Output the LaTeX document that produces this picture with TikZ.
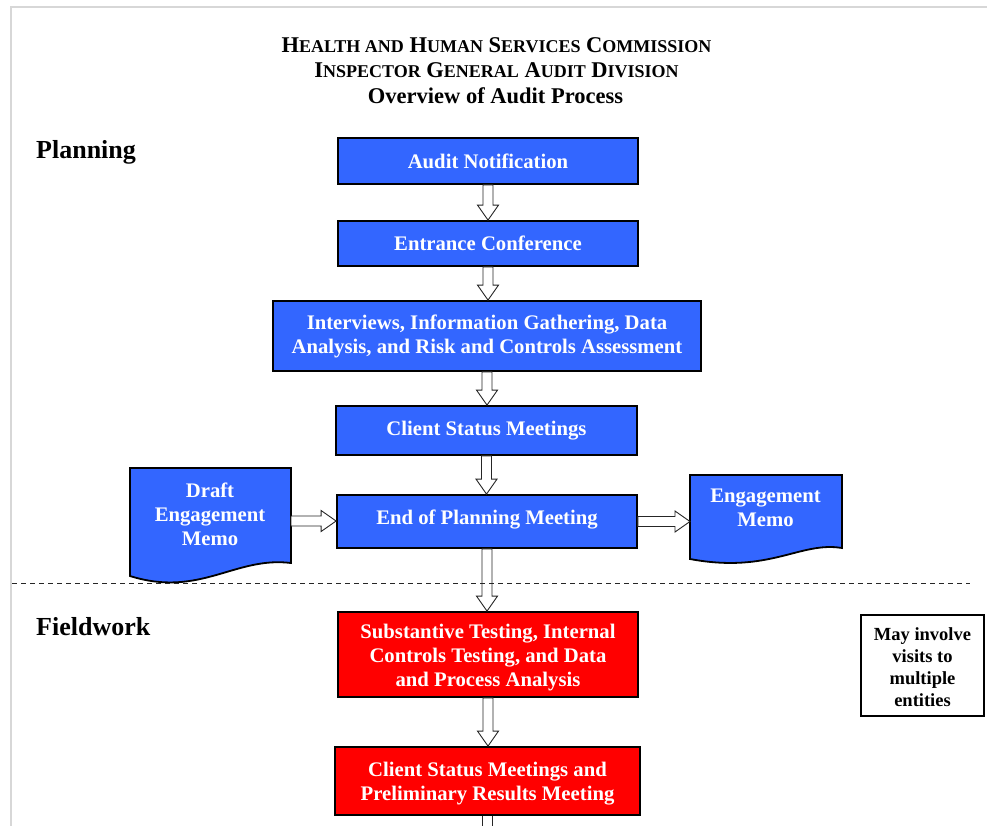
\documentclass[tikz,border=0pt]{standalone}
\usepackage{fontspec}
\setmainfont{Liberation Serif}
\usetikzlibrary{calc}
\definecolor{boxblue}{RGB}{51,102,255}
\definecolor{boxred}{RGB}{255,0,0}
\definecolor{framegrey}{RGB}{215,215,215}
\newcommand\boxfont{\fontsize{20.7}{24}\selectfont\bfseries}
\newcommand\titlefont{\fontsize{22.5}{25}\selectfont\bfseries}
\newcommand\labelfont{\fontsize{26}{30}\selectfont\bfseries}
\newcommand\notefont{\fontsize{18.5}{22}\selectfont\bfseries}
\newcommand\tsc[2]{#1{\fontsize{18}{20}\selectfont #2}}
\tikzset{
  box/.style={draw=black, line width=1.8pt, inner sep=0pt, align=center, text=white, font=\boxfont},
  bluebox/.style={box, fill=boxblue},
  redbox/.style={box, fill=boxred},
  doctext/.style={inner sep=0pt, align=center, text=white, font=\boxfont},
  docshape/.style={draw=black, line width=1.8pt, fill=boxblue},
  barrow/.style={draw=black!85, line width=0.9pt, fill=white},
  notebox/.style={draw=black, line width=1.2pt, fill=white, inner sep=0pt, align=center, font=\notefont},
  sectlabel/.style={anchor=west, inner sep=0pt, font=\labelfont},
  titletext/.style={inner sep=0pt, font=\titlefont}
}
\newcommand\varrow[2]{\path[barrow] let \p1=(#1), \p2=(#2) in
  (\x1-5pt,\y1) -- (\x1-5pt,\y2+15pt) -- (\x1-10.5pt,\y2+15pt) -- (\x1,\y2)
  -- (\x1+10.5pt,\y2+15pt) -- (\x1+5pt,\y2+15pt) -- (\x1+5pt,\y1) -- cycle;}
\newcommand\harrow[2]{\path[barrow] let \p1=(#1), \p2=(#2) in
  (\x1,\y1-5pt) -- (\x2-15pt,\y1-5pt) -- (\x2-15pt,\y1-10.5pt) -- (\x2,\y1)
  -- (\x2-15pt,\y1+10.5pt) -- (\x2-15pt,\y1+5pt) -- (\x1,\y1+5pt) -- cycle;}
\begin{document}
\begin{tikzpicture}[x=1pt, y=-1pt]
\useasboundingbox (0,0) rectangle (987,825);
% page frame
\draw[framegrey, line width=2pt] (10.5,830) -- (10.5,7) -- (992,7);

% title
\node[titletext] (t1) at (496.5,45) {\tsc{H}{EALTH AND} \tsc{H}{UMAN} \tsc{S}{ERVICES} \tsc{C}{OMMISSION}};
\node[titletext] (t2) at (496.5,70) {\tsc{I}{NSPECTOR} \tsc{G}{ENERAL} \tsc{A}{UDIT} \tsc{D}{IVISION}};
\node[titletext] (t3) at (495.5,96) {Overview of Audit Process};

% section labels
\node[sectlabel] (plan) at (36,152) {Planning};
\node[sectlabel] (field) at (36,627) {Fieldwork};

% planning boxes
\node[bluebox, minimum width=300pt, minimum height=46pt] (an) at (488,161) {Audit Notification};
\node[bluebox, minimum width=300pt, minimum height=45pt] (ec) at (488,243.5) {Entrance Conference};
\node[bluebox, minimum width=428pt, minimum height=70pt] (ig) at (487,336) {Interviews, Information Gathering, Data\\Analysis, and Risk and Controls Assessment};
\node[bluebox, minimum width=301pt, minimum height=49pt] (cs) at (486.5,430.5) {Client Status Meetings};
\node[bluebox, minimum width=300pt, minimum height=53pt] (ep) at (487,521.5) {};
\node[doctext] (ept) at (487,519) {End of Planning Meeting};

% document shapes
\draw[docshape] (130,468) -- (291,468) -- (291,563)
  .. controls (235,556) and (200,598) .. (130,576) -- cycle;
\node[doctext] (dm) at (210,514) {Draft\\Engagement\\Memo};
\coordinate (dmr) at (291,521);
\draw[docshape] (690,475) -- (842,475) -- (842,548)
  .. controls (800,541) and (770,574) .. (690,559) -- cycle;
\node[doctext] (em) at (765.5,508) {Engagement\\Memo};
\coordinate (eml) at (690,521);

% fieldwork boxes
\node[redbox, minimum width=300pt, minimum height=85pt] (st) at (488,654.5) {};
\node[doctext] (stt) at (488,657.5) {Substantive Testing, Internal\\Controls Testing, and Data\\and Process Analysis};
\node[redbox, minimum width=305pt, minimum height=68pt] (pr) at (487.5,781) {};
\node[doctext] (prt) at (487.5,784) {Client Status Meetings and\\Preliminary Results Meeting};
\node[notebox, minimum width=123pt, minimum height=101pt] (note) at (922.5,665.5) {};
\node[inner sep=0pt, align=center, font=\notefont] (notet) at (922.5,667.5) {May involve\\visits to\\multiple\\entities};

% arrows
\varrow{an.south}{ec.north}
\varrow{ec.south}{ig.north}
\varrow{ig.south}{cs.north}
\varrow{cs.south}{ep.north}
\varrow{ep.south}{st.north}
\varrow{st.south}{pr.north}
\harrow{dmr}{ep.west}
\harrow{ep.east}{eml}
\coordinate (stub) at (487.5,828);
\draw[black!85, line width=0.9pt] ($(pr.south)+(-5pt,0)$) -- ($(stub)+(-5pt,0)$)
  ($(pr.south)+(5pt,0)$) -- ($(stub)+(5pt,0)$);

% phase divider
\draw[black!85, line width=0.8pt, dash pattern=on 5pt off 4pt] (12,583) -- (970,583);
\end{tikzpicture}
\end{document}
